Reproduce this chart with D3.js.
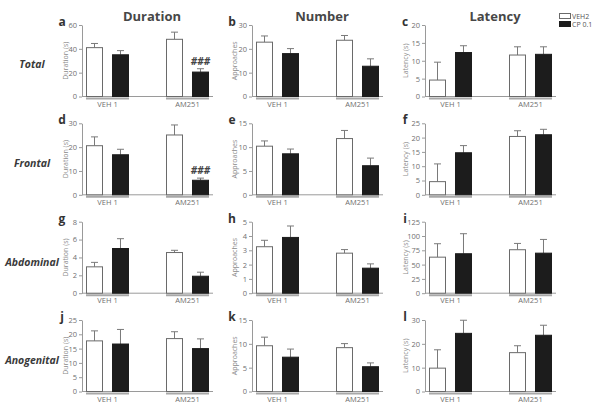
<!DOCTYPE html>
<html><head><meta charset="utf-8">
<script src="https://cdn.jsdelivr.net/npm/d3@7"></script>
<style>body{margin:0;background:#fff}svg{display:block}</style>
</head><body>
<svg id="c" width="600" height="410"></svg>
<script>
// ---- data ----
const groups = ["VEH 1", "AM251"];
const series = ["VEH2", "CP 0.1"];
const columnTitles = ["Duration", "Number", "Latency"];
const rowTitles = ["Total", "Frontal", "Abdominal", "Anogenital"];
const yAxisLabels = ["Duration (s)", "Approaches", "Latency (s)"];
const panelLetters = ["a","b","c","d","e","f","g","h","i","j","k","l"];
const yMaxes = [60, 30, 20, 30, 15, 25, 8, 5, 125, 25, 15, 30];
const yTickSteps = [20, 10, 5, 10, 5, 5, 2, 1, 25, 5, 5, 10];
// means: [VEH1/VEH2, VEH1/CP, AM251/VEH2, AM251/CP]
const means = [
  [41, 35, 48, 20.5],
  [22.8, 18, 23.6, 12.7],
  [4.6, 12.3, 11.6, 11.8],
  [20.6, 16.8, 25.1, 6.1],
  [10.2, 8.6, 11.8, 6.1],
  [4.6, 14.7, 20.4, 21.0],
  [2.95, 5.0, 4.55, 1.9],
  [3.25, 3.9, 2.8, 1.75],
  [63, 69, 76, 70],
  [17.7, 16.6, 18.5, 15],
  [9.6, 7.2, 9.2, 5.2],
  [9.8, 24.4, 16.3, 23.6]
];
const sems = [
  [3.5, 3.5, 6, 2.8],
  [2.6, 2.1, 2.0, 3.1],
  [5.0, 1.9, 2.3, 2.1],
  [3.7, 2.3, 4.2, 0.9],
  [1.1, 1.0, 1.7, 1.6],
  [6.2, 2.5, 2.0, 1.9],
  [0.5, 1.1, 0.25, 0.45],
  [0.45, 0.8, 0.25, 0.3],
  [23.5, 35, 11, 24],
  [3.5, 5.1, 2.4, 3.4],
  [1.8, 1.7, 0.85, 0.8],
  [7.7, 5.5, 2.9, 4.2]
];
const significance = {a: "###", d: "###"};

// ---- layout ----
const svg = d3.select("#c");
svg.append("rect").attr("width",600).attr("height",410).attr("fill","#fff");
const colAxisX = [82, 252, 425];
const colLabelOff = [14, 15, 17];
const rowTop = [25, 123.3, 221.7, 320];
const plotH = 71.5, plotW = 131;
const textGray = "#6f6f6f", axisGray = "#9a9a9a";
const font = "'Open Sans', 'Liberation Sans', sans-serif";

const x0 = d3.scaleBand().domain(groups).range([0, plotW]).paddingInner(0.4625).paddingOuter(0.05);
const x1 = d3.scaleBand().domain(series).range([0, x0.bandwidth()]).paddingInner(0.346);

// column titles
columnTitles.forEach((t, c) => {
  svg.append("text").attr("x", colAxisX[c] + 70).attr("y", 21)
    .attr("text-anchor","middle").attr("font-family",font).attr("font-weight","bold")
    .attr("font-size",13).attr("fill","#474747").text(t);
});
// row titles
const rowCenters = [64, 163, 262, 360];
rowTitles.forEach((t, r) => {
  svg.append("text").attr("x", 32).attr("y", rowCenters[r] + 4)
    .attr("text-anchor","middle").attr("font-family",font).attr("font-weight","bold")
    .attr("font-style","italic").attr("font-size",10.5).attr("fill","#3a3a3a").text(t);
});

panelLetters.forEach((letter, i) => {
  const r = Math.floor(i / 3), c = i % 3;
  const g = svg.append("g").attr("transform", `translate(${colAxisX[c]},${rowTop[r]})`);
  const y = d3.scaleLinear().domain([0, yMaxes[i]]).range([plotH, 0]);
  const ticks = d3.range(0, yMaxes[i] + 1e-9, yTickSteps[i]);

  // panel letter
  svg.append("text").attr("x", colAxisX[c] - 20).attr("y", rowTop[r] + 1)
    .attr("text-anchor","middle").attr("font-family",font).attr("font-weight","bold")
    .attr("font-size",12).attr("fill","#333").text(letter);

  // y axis
  const ax = g.append("g").call(d3.axisLeft(y).tickValues(ticks).tickFormat(d3.format("d"))
    .tickSize(3).tickSizeOuter(0).tickPadding(2));
  ax.select(".domain").attr("stroke", axisGray);
  ax.selectAll(".tick line").attr("stroke", axisGray);
  ax.selectAll(".tick text").attr("fill", textGray).attr("font-size", 7.5).attr("font-family", font);

  // y label
  g.append("text").attr("transform", `translate(${-colLabelOff[c]},${plotH/2}) rotate(-90)`)
    .attr("text-anchor","middle").attr("font-family",font).attr("font-size",7)
    .attr("fill","#8a8a8a").text(yAxisLabels[c]);

  // x baseline
  g.append("line").attr("x1",0).attr("x2",plotW).attr("y1",plotH).attr("y2",plotH)
    .attr("stroke",axisGray).attr("stroke-width",1);
  // group lines + labels
  groups.forEach(gr => {
    g.append("line").attr("x1", x0(gr)).attr("x2", x0(gr) + x0.bandwidth())
      .attr("y1", plotH + 2).attr("y2", plotH + 2).attr("stroke", "#a8a8a8").attr("stroke-width", 2);
    g.append("text").attr("x", x0(gr) + x0.bandwidth()/2).attr("y", plotH + 10)
      .attr("text-anchor","middle").attr("font-family",font).attr("font-size",7.5)
      .attr("fill",textGray).text(gr);
  });

  // bars
  groups.forEach((gr, gi) => {
    series.forEach((s, si) => {
      const k = gi * 2 + si;
      const m = means[i][k], e = sems[i][k];
      const bx = x0(gr) + x1(s), bw = x1.bandwidth();
      const cx = bx + bw / 2;
      g.append("line").attr("x1", cx).attr("x2", cx).attr("y1", y(m)).attr("y2", y(m + e))
        .attr("stroke", "#7a7a7a").attr("stroke-width", 1);
      g.append("line").attr("x1", cx - 3.5).attr("x2", cx + 3.5).attr("y1", y(m + e)).attr("y2", y(m + e))
        .attr("stroke", "#7a7a7a").attr("stroke-width", 1);
      g.append("rect").attr("x", bx + 0.5).attr("y", y(m)).attr("width", bw - 1)
        .attr("height", plotH - y(m))
        .attr("fill", si === 0 ? "#fff" : "#1c1c1c")
        .attr("stroke", si === 0 ? "#6a6a6a" : "#1c1c1c").attr("stroke-width", 1);
      if (si === 1 && gi === 1 && significance[letter]) {
        g.append("text").attr("x", cx).attr("y", y(m + e) - 4)
          .attr("text-anchor","middle").attr("font-family",font).attr("font-weight","bold")
          .attr("font-style","italic").attr("font-size",10).attr("fill","#444")
          .text(significance[letter]);
      }
    });
  });
});

// legend
const lg = svg.append("g").attr("transform","translate(559,13)");
series.forEach((s, si) => {
  lg.append("rect").attr("x", 0.5).attr("y", si * 8 + 0.5).attr("width", 11).attr("height", 5)
    .attr("fill", si === 0 ? "#fff" : "#1c1c1c").attr("stroke", si === 0 ? "#6a6a6a" : "#1c1c1c");
  lg.append("text").attr("x", 13).attr("y", si * 8 + 5.5).attr("font-family", font)
    .attr("font-size", 7).attr("fill", "#555").text(s);
});
</script>
</body></html>
